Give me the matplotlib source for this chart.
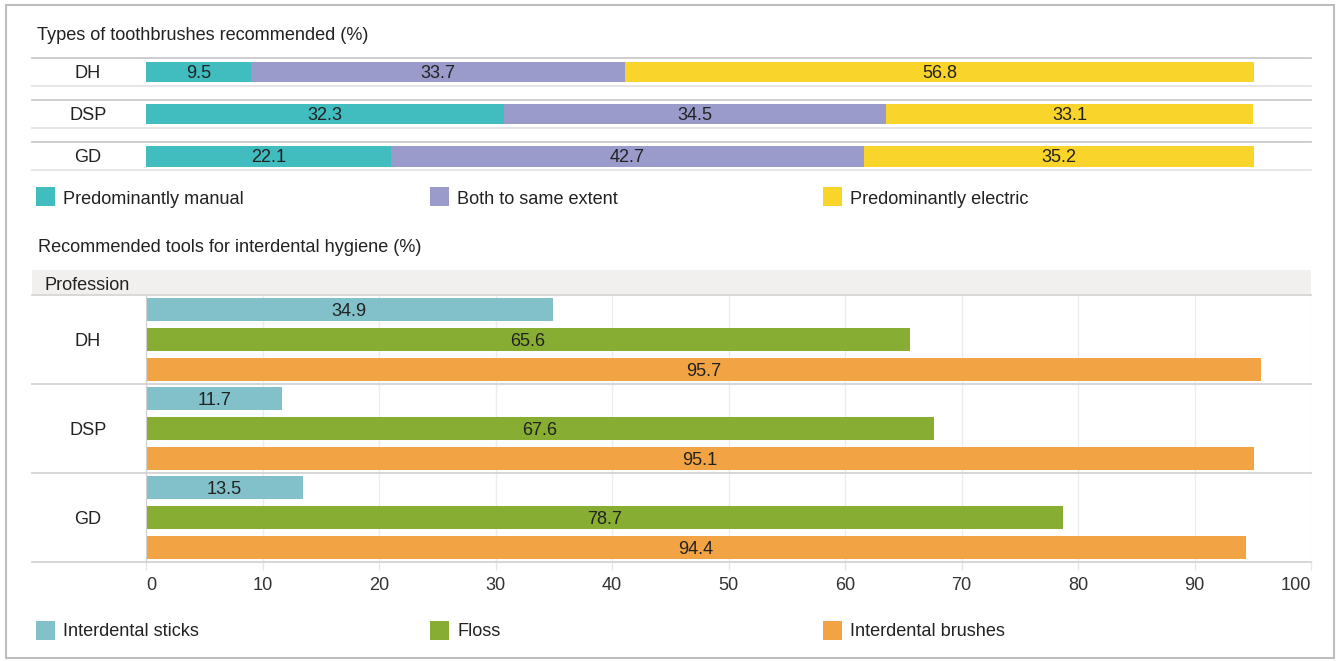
import matplotlib
matplotlib.use("Agg")
import matplotlib.pyplot as plt
from matplotlib.patches import Rectangle
from matplotlib.lines import Line2D

# ---- data -------------------------------------------------------------
professions = ["DH", "DSP", "GD"]

brush_types = ["Predominantly manual", "Both to same extent", "Predominantly electric"]
manual = [9.5, 32.3, 22.1]
both = [33.7, 34.5, 42.7]
electric = [56.8, 33.1, 35.2]

tools = ["Interdental sticks", "Floss", "Interdental brushes"]
sticks = [34.9, 11.7, 13.5]
floss = [65.6, 67.6, 78.7]
brushes = [95.7, 95.1, 94.4]

x_ticks = [0, 10, 20, 30, 40, 50, 60, 70, 80, 90, 100]

title_top = "Types of toothbrushes recommended (%)"
title_bottom = "Recommended tools for interdental hygiene (%)"
header_label = "Profession"

# ---- style ------------------------------------------------------------
brush_colors = ["#41bcbf", "#9a9bcb", "#f9d52b"]
tool_colors = ["#82c1ca", "#87ad32", "#f2a444"]
TXT = "#222222"
FS = 13.1
VA = "center_baseline"

plt.rcParams["font.family"] = ["Liberation Sans", "DejaVu Sans"]

W, H = 1338, 661
fig = plt.figure(figsize=(W / 100, H / 100), dpi=100)
fig.patch.set_facecolor("white")


def fx(x):
    return x / W


def fy(y):
    return 1 - y / H


def px_axes(x0, y0, x1, y1):
    return fig.add_axes([fx(x0), fy(y1), fx(x1) - fx(x0), fy(y0) - fy(y1)])


LABEL_LEFT, PLOT_LEFT, PLOT_RIGHT = 32, 146, 1311
ext = -(PLOT_LEFT - LABEL_LEFT) / (PLOT_RIGHT - PLOT_LEFT)   # label column, in axes fraction
label_x = -(PLOT_LEFT - 88) / (PLOT_RIGHT - PLOT_LEFT)

# outer frame
fig.add_artist(Rectangle((fx(6), fy(658)), fx(1334) - fx(6), fy(5) - fy(658),
                         transform=fig.transFigure, fill=False,
                         edgecolor="#bdbdbd", linewidth=1.5))

# ---- stacked toothbrush bars -------------------------------------------
fig.text(fx(37), fy(33), title_top, fontsize=FS, color=TXT, va=VA, ha="left")

ax1 = px_axes(PLOT_LEFT, 51, PLOT_RIGHT, 177)
ax1.set_xlim(0, 105.14)
ax1.set_ylim(2.5, -0.5)
ax1.axis("off")

ypos = list(range(len(professions)))
left = [0.0] * len(professions)
for vals, col in zip([manual, both, electric], brush_colors):
    ax1.barh(ypos, vals, left=left, height=0.5, color=col, linewidth=0)
    for i, v in enumerate(vals):
        ax1.text(left[i] + v / 2, i, f"{v:.1f}", ha="center", va=VA,
                 fontsize=FS, color=TXT)
    left = [l + v for l, v in zip(left, vals)]

ytr1 = ax1.get_yaxis_transform()
for i, name in enumerate(professions):
    ax1.add_line(Line2D([ext, 1], [i - 0.345] * 2, transform=ytr1, clip_on=False,
                        color="#c9c9c9", linewidth=1.3))
    ax1.add_line(Line2D([ext, 1], [i + 0.345] * 2, transform=ytr1, clip_on=False,
                        color="#e3e3e3", linewidth=1.3))
    ax1.text(label_x, i, name, transform=ytr1, ha="center", va=VA,
             fontsize=FS, color=TXT)

legend_x = [36, 430, 823]


def legend_row(y, labels, colors):
    for x, lab, col in zip(legend_x, labels, colors):
        fig.add_artist(Rectangle((fx(x), fy(y + 9.5)), fx(19), 19 / H,
                                 transform=fig.transFigure, facecolor=col,
                                 edgecolor="none"))
        fig.text(fx(x + 27), fy(y), lab, fontsize=FS, color=TXT, va=VA, ha="left")


legend_row(197, brush_types, brush_colors)

# ---- grouped interdental bars -------------------------------------------
fig.text(fx(38), fy(246), title_bottom, fontsize=FS, color=TXT, va=VA, ha="left")

fig.add_artist(Rectangle((fx(LABEL_LEFT), fy(295)), fx(PLOT_RIGHT) - fx(LABEL_LEFT),
                         fy(270) - fy(295), transform=fig.transFigure,
                         facecolor="#f2f0ee", edgecolor="none"))
fig.add_artist(Line2D([fx(LABEL_LEFT), fx(PLOT_RIGHT)], [fy(295)] * 2,
                      transform=fig.transFigure, color="#d6d6d6", linewidth=1.3))
fig.text(fx(45), fy(283), header_label, fontsize=FS, color=TXT, va=VA, ha="left")

ax2 = px_axes(PLOT_LEFT, 295, PLOT_RIGHT, 562)
ax2.set_xlim(0, 100)
ax2.set_ylim(2.5, -0.5)
ax2.set_axisbelow(True)
ax2.set_xticks(x_ticks)
ax2.set_xticklabels([str(t) for t in x_ticks])
ax2.set_yticks([])
ax2.grid(axis="x", color="#ececf0", linewidth=1)
for side in ["top", "right", "bottom"]:
    ax2.spines[side].set_visible(False)
ax2.spines["left"].set_color("#d0d0d0")
ax2.tick_params(axis="x", length=6, width=1, color="#e6e6e6", labelsize=FS,
                labelcolor="#333333", pad=4.5)
tl = ax2.get_xticklabels()
tl[0].set_ha("left")
tl[-1].set_ha("right")

offsets = [-1 / 3, 0, 1 / 3]
for vals, col, off in zip([sticks, floss, brushes], tool_colors, offsets):
    ys = [i + off for i in range(len(professions))]
    ax2.barh(ys, vals, height=0.26, color=col, linewidth=0)
    for y, v in zip(ys, vals):
        ax2.text(v / 2, y, f"{v:.1f}", ha="center", va=VA,
                 fontsize=FS, color=TXT)

ytr2 = ax2.get_yaxis_transform()
for i, name in enumerate(professions):
    ax2.add_line(Line2D([ext, 1], [i + 0.5] * 2, transform=ytr2, clip_on=False,
                        color="#d3d3d3", linewidth=1.3))
    ax2.text(label_x, i, name, transform=ytr2, ha="center", va=VA,
             fontsize=FS, color=TXT)

legend_row(630, tools, tool_colors)

fig.savefig("out.png", dpi=100, facecolor="white")
